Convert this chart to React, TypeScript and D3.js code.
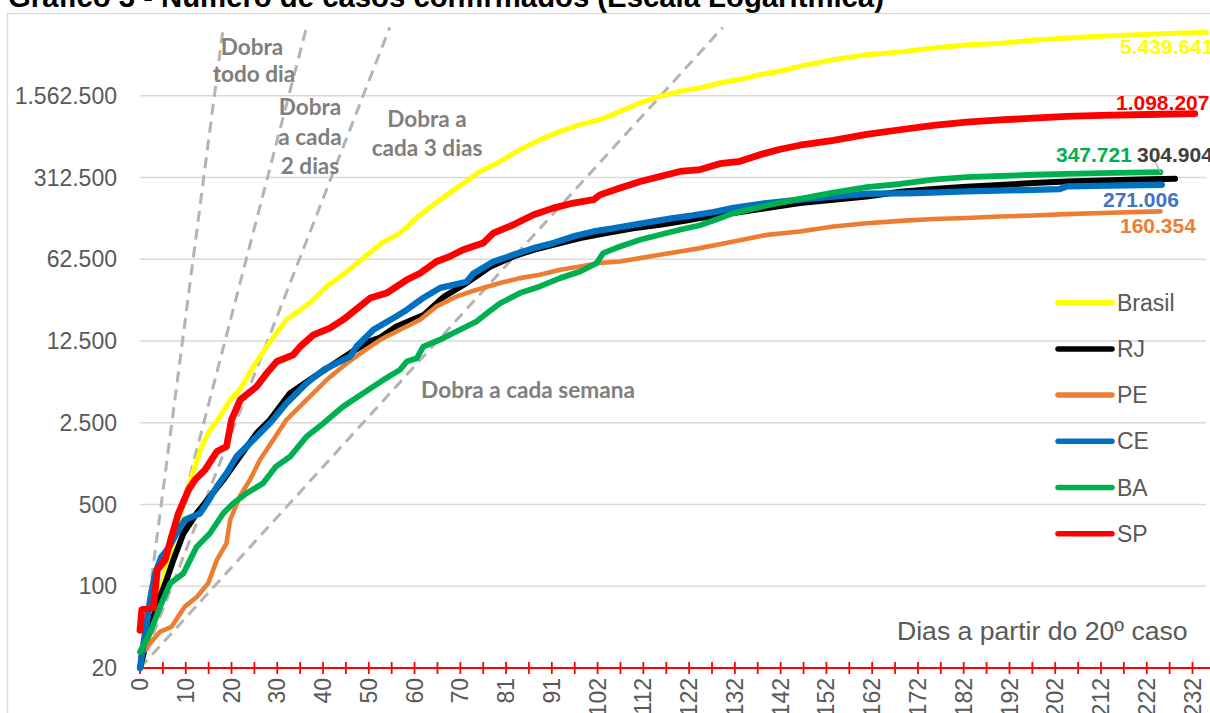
import React from "react";
import * as d3 from "d3";

// ---------- data (category index → confirmed cases) ----------
const xTickLabels = ["0","10","20","30","40","50","60","70","81","91","102","112","122","132","142","152","162","172","182","192","202","212","222","232"];
const yTicks = [20, 100, 500, 2500, 12500, 62500, 312500, 1562500];
const doublingDays = [1, 2, 3, 7];

const brasil: [number, number][] = [[0,20],[1,27],[2.6,45],[4.7,99],[5.8,147],[8.7,394],[10.6,712],[12,1055],[13.5,1565],[15.3,2170],[17.5,2820],[19.7,3920],[21.8,4780],[24.8,7570],[27.7,11200],[32,19000],[37.1,26400],[40.8,36600],[45.2,49200],[48.8,63900],[52.8,86000],[56.8,104600],[61.2,150000],[65.6,202000],[69.9,265000],[74.3,352000],[78.7,429000],[83,540000],[87.4,658000],[91.8,775000],[96.2,884000],[100.5,975000],[104.9,1149000],[109.3,1355000],[113.6,1545000],[118,1705000],[122.4,1820000],[126.7,2010000],[131.1,2150000],[135.5,2370000],[139.9,2530000],[144.2,2790000],[151.5,3180000],[158.8,3510000],[166.1,3700000],[173.4,4000000],[180.6,4250000],[187.9,4400000],[195.2,4650000],[202.5,4880000],[209.8,5050000],[218,5200000],[226,5340000],[233,5439641]];
const rj: [number, number][] = [[0,20],[1.5,35],[3.6,67],[5.8,113],[7.3,168],[9.5,284],[12.4,421],[15.3,584],[18.2,811],[21.8,1285],[25.5,2035],[28.4,2650],[32.8,4480],[37.1,5820],[41.5,7570],[45.9,9840],[50.3,12500],[52.5,13400],[56,16600],[62,20900],[66.4,29900],[71.4,39300],[76.5,53900],[81.6,66000],[86,75300],[90.3,83100],[96.2,94800],[101.9,104600],[107.8,115000],[113.6,123000],[119.4,134000],[122.4,140600],[129.7,155000],[137,171000],[144.2,189000],[151.5,202000],[158.8,215000],[166.1,236000],[173.4,249000],[180.6,260000],[187.9,270000],[195.2,280000],[202.5,289000],[210,295000],[218,300000],[226.2,304904]];
const pe: [number, number][] = [[0,25],[2.2,32.5],[4.4,41],[6.9,45],[9.8,67],[12.4,81],[14.9,106],[16.8,168],[18.9,233],[19.7,369],[21.8,585],[24,811],[26.2,1200],[29.1,1780],[32,2650],[36.4,3930],[40.8,5820],[45.2,8070],[50.3,11200],[52.5,12800],[56.8,15600],[61.2,19000],[64.8,24700],[69.2,30100],[73.6,34300],[78.7,39100],[83,43100],[87.4,46000],[91.8,50800],[96.2,54200],[100.5,58000],[104.9,59800],[109.3,63900],[113.6,68200],[118,72800],[122.4,77800],[129.7,88700],[137,101000],[144.2,108000],[151.5,119000],[158.8,127000],[166.1,133000],[173.4,138000],[180.6,141000],[187.9,145000],[195.2,148000],[202.5,152000],[212,156000],[223,160354]];
const ce: [number, number][] = [[0,20],[1.1,40],[2.2,76],[3.3,129],[4.7,179],[6.2,211],[8,284],[9.8,369],[13.1,420],[14.6,512],[16.8,711],[18.9,925],[21.1,1285],[24.8,1785],[28.4,2480],[32,3675],[36.4,5450],[40.1,7080],[44.4,8620],[45.9,9200],[47.3,11200],[51,15600],[56,20300],[58.3,23100],[61.9,29200],[65.6,35600],[71.4,40100],[72.8,47000],[77.2,59400],[81.6,68200],[86,77800],[90.3,85900],[94.7,98000],[99.1,108000],[103.4,115000],[107.8,123000],[112.2,131500],[116.5,140600],[120.9,148000],[125.3,158000],[129.7,172000],[137,189000],[144.2,202000],[151.5,215000],[158.8,227000],[169.7,230000],[180.6,238000],[195.2,245000],[201,249000],[202.5,262000],[212,266000],[223.3,271006]];
const ba: [number, number][] = [[0,27.5],[2.2,40],[4.4,67],[6.6,106],[9.5,129],[12.4,218],[15.3,284],[18.2,421],[20.4,512],[23.3,624],[26.9,760],[29.7,1055],[32.8,1285],[36.4,1905],[40.1,2480],[44.4,3445],[48.8,4480],[53.2,5820],[56.8,7080],[58.3,8350],[60.5,8920],[61.9,11200],[65.5,12800],[69.9,15600],[73.6,18400],[75.8,21600],[78.7,26300],[83,32100],[87.4,36600],[91.8,43100],[96.2,49100],[99.8,58000],[101.2,70500],[104.9,80400],[109.3,91700],[113.6,101200],[118,111700],[122.4,122000],[126.7,140000],[129.7,155000],[137,180000],[144.2,205000],[151.5,232000],[158.8,258000],[166.1,275000],[173.4,300000],[180.6,315000],[187.9,322000],[195.2,330000],[202.5,336000],[209.8,340000],[223,347721]];
const sp: [number, number][] = [[0,42],[0.4,63],[2.9,65],[3.8,138],[5.5,168],[6.9,266],[8.4,420],[10.6,666],[12,811],[14.2,988],[16.8,1420],[18.9,1565],[20,2650],[21.9,3930],[25.5,5100],[27.7,6640],[29.9,8350],[33.5,9530],[35,11200],[37.9,14100],[41.5,16100],[44.4,19000],[50.3,29100],[53.9,32100],[58.3,41700],[61.2,47500],[64.8,59800],[67.7,66000],[70.6,75400],[75,85900],[77.2,104600],[81.6,123300],[86,150000],[90.3,171000],[94.7,189000],[99.1,202000],[100.5,222000],[104.9,254000],[109.3,289000],[113.6,319000],[118,352000],[122.4,365000],[126.7,410000],[131.1,430000],[135.5,490000],[139.9,545000],[144.2,590000],[151.5,650000],[158.8,730000],[166.1,800000],[173.4,870000],[180.6,930000],[187.9,970000],[195.2,1005000],[202.5,1040000],[210,1060000],[220,1080000],[230.5,1098207]];

const seriesNames = ["Brasil", "RJ", "PE", "CE", "BA", "SP"];
const seriesData = [brasil, rj, pe, ce, ba, sp];
const seriesColors = ["#ffff00", "#000000", "#ed7d31", "#0070c0", "#00b050", "#ff0000"];
const seriesWidths = [5, 6, 4.6, 6.3, 5.8, 6.8];

const lastLabels = ["5.439.641", "304.904", "160.354", "271.006", "347.721", "1.098.207"];
const labelColors = ["#ffff00", "#404040", "#ed7d31", "#4472c4", "#00b050", "#ff0000"];
const labelPos: [number, number][] = [[1120, 47], [1137, 155], [1120, 226], [1103, 200], [1056, 155], [1116, 103]];

export default function App() {
  const W = 1210, H = 713;
  const x = d3.scaleLinear().domain([0, 230]).range([140, 1192.5]);
  const y = d3.scaleLog().base(5).domain([20, 7812500]).range([668, 14]);
  const fmt = d3.formatLocale({ thousands: ".", grouping: [3], decimal: ",", currency: ["R$", ""] }).format(",");
  const line = d3.line<[number, number]>().x(d => x(d[0])).y(d => y(d[1])).curve(d3.curveLinear);
  const axisFont = "'Liberation Sans', Arial, sans-serif";
  const annFont = "Lato, 'Open Sans', sans-serif";
  const gray = "#595959";
  const annColor = "#7f7f7f";
  const minorTicks = d3.range(0, 231, 5);

  return (
    <svg width={W} height={H} style={{ position: "absolute", left: 0, top: 0, background: "#fff" }}>
      <defs>
        <clipPath id="plot"><rect x={130} y={14} width={1080} height={660} /></clipPath>
      </defs>
      <rect x={0} y={0} width={W} height={H} fill="#fff" />
      <text x={8} y={7} fontFamily={axisFont} fontWeight="bold" fontSize={29.3} fill="#000">
        Gráfico 3 - Número de casos confirmados (Escala Logarítmica)
      </text>
      <rect x={7.5} y={13.5} width={1300} height={800} fill="none" stroke="#d9d9d9" strokeWidth={1.3} />

      {/* gridlines */}
      {yTicks.slice(1).map(t => (
        <line key={t} x1={140} x2={1206} y1={y(t)} y2={y(t)} stroke="#d9d9d9" strokeWidth={1.4} />
      ))}
      {/* y labels */}
      {yTicks.map(t => (
        <text key={"yl" + t} x={117} y={y(t)} dy="0.35em" textAnchor="end" fontFamily={axisFont} fontSize={23} fill={gray}>{fmt(t)}</text>
      ))}

      {/* doubling reference lines */}
      <g clipPath="url(#plot)">
        {doublingDays.map(dd => {
          const end = dd * Math.log2(6000000 / 20);
          return (
            <line key={dd} x1={x(0)} y1={y(20)} x2={x(end)} y2={y(6000000)} stroke="#b4b4b4" strokeWidth={3} strokeDasharray="11,7" />
          );
        })}
      </g>

      {/* annotations */}
      <g fontFamily={annFont} fontWeight="bold" fontSize={22.6} fill={annColor} textAnchor="middle">
        <text x={252} y={47} dy="0.35em">Dobra</text>
        <text x={254} y={74} dy="0.35em">todo dia</text>
        <text x={310} y={107} dy="0.35em">Dobra</text>
        <text x={310} y={137} dy="0.35em">a cada</text>
        <text x={310} y={166} dy="0.35em">2 dias</text>
        <text x={427} y={119} dy="0.35em">Dobra a</text>
        <text x={427} y={148} dy="0.35em">cada 3 dias</text>
        <text x={528} y={390} dy="0.35em">Dobra a cada semana</text>
      </g>

      {/* x axis */}
      <line x1={140} x2={1210} y1={668} y2={668} stroke="#ff0000" strokeWidth={2} />
      {minorTicks.map(t => (
        <line key={"t" + t} x1={x(t)} x2={x(t)} y1={662} y2={674} stroke="#ff0000" strokeWidth={1.8} />
      ))}
      {xTickLabels.map((lab, i) => (
        <text key={"xl" + i} transform={`translate(${x(i * 10)},678) rotate(-90)`} textAnchor="end" dy="0.35em" fontFamily={axisFont} fontSize={23} fill={gray}>{lab}</text>
      ))}
      <text x={897} y={631} dy="0.35em" fontFamily={axisFont} fontSize={26.6} fill={gray}>Dias a partir do 20º caso</text>

      {/* series */}
      <g clipPath="url(#plot)">
        {seriesData.map((s, i) => (
          <path key={seriesNames[i]} d={line(s) || ""} fill="none" stroke={seriesColors[i]} strokeWidth={seriesWidths[i]} strokeLinejoin="round" strokeLinecap="round" />
        ))}
      </g>

      {/* end labels */}
      <line x1={1155} y1={162} x2={1161} y2={173} stroke="#a6a6a6" strokeWidth={1.2} />
      {lastLabels.map((l, i) => (
        <text key={"ll" + i} x={labelPos[i][0]} y={labelPos[i][1]} dy="0.35em" fontFamily={axisFont} fontWeight="bold" fontSize={21} fill={labelColors[i]}>{l}</text>
      ))}

      {/* legend */}
      {seriesNames.map((n, i) => {
        const ly = 302.7 + i * 46.2;
        return (
          <g key={"lg" + n}>
            <line x1={1058} x2={1112} y1={ly} y2={ly} stroke={seriesColors[i]} strokeWidth={5.5} strokeLinecap="round" />
            <text x={1117} y={ly} dy="0.35em" fontFamily={axisFont} fontSize={23} fill={gray}>{n}</text>
          </g>
        );
      })}
    </svg>
  );
}
